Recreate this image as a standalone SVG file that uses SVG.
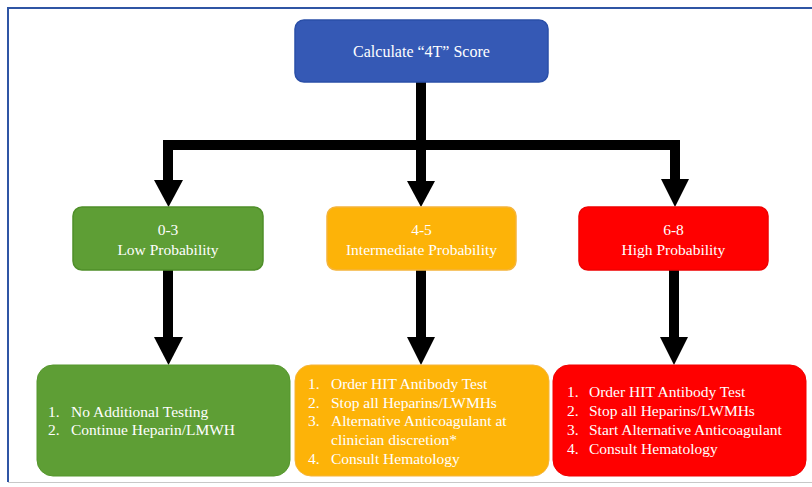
<svg xmlns="http://www.w3.org/2000/svg" width="812" height="487" viewBox="0 0 812 487">
<style>
  .t{font-family:"Liberation Serif","Times New Roman",serif;fill:#fff;font-size:15.5px}
  .c{text-anchor:middle}
  .ln{fill:none;stroke:#000;stroke-width:10;stroke-linejoin:miter}
  .hd{fill:#000}
</style>
<rect x="0" y="0" width="812" height="487" fill="#fff"/>
<line x1="8" y1="8" x2="812" y2="8" stroke="#2F55A4" stroke-width="2"/>
<line x1="8" y1="7" x2="8" y2="482" stroke="#2F55A4" stroke-width="2"/>
<line x1="8" y1="482.5" x2="812" y2="482.5" stroke="#c8c8c8" stroke-width="1"/>
<g id="connectors">
  <path class="ln" d="M421,82 V181"/>
  <path class="ln" d="M168,181 V145 H675 V179"/>
  <polygon class="hd" points="154,180 183,180 168.5,207"/>
  <polygon class="hd" points="407,181 435,181 421,207"/>
  <polygon class="hd" points="661,179 689,179 675,207"/>
  <path class="ln" d="M168,270 V338"/>
  <polygon class="hd" points="154,337 183,337 168.5,365"/>
  <path class="ln" d="M421,270 V338"/>
  <polygon class="hd" points="407,337 435,337 421,365"/>
  <path class="ln" d="M674,270 V338"/>
  <polygon class="hd" points="660,337 688,337 674,365"/>
</g>
<g id="n-top">
  <rect x="295" y="20" width="253" height="62" rx="9" fill="#3559B5" stroke="#2A4FA8" stroke-width="1.5"/>
  <text class="t c" x="421.5" y="57" style="font-size:16px">Calculate “4T” Score</text>
</g>
<g id="n-low">
  <rect x="73" y="207" width="190" height="63" rx="9" fill="#5E9E35" stroke="#4F8F29" stroke-width="1.5"/>
  <text class="t c" x="168" y="235">0-3</text>
  <text class="t c" x="168" y="255">Low Probability</text>
</g>
<g id="n-mid">
  <rect x="327" y="207" width="189" height="63" rx="9" fill="#FDB308" stroke="#F5B43A" stroke-width="1.5"/>
  <text class="t c" x="421.5" y="235">4-5</text>
  <text class="t c" x="421.5" y="255">Intermediate Probability</text>
</g>
<g id="n-high">
  <rect x="579" y="207" width="189" height="63" rx="9" fill="#FF0000" stroke="#F00000" stroke-width="1.5"/>
  <text class="t c" x="673.5" y="235">6-8</text>
  <text class="t c" x="673.5" y="255">High Probability</text>
</g>
<g id="n-low-act">
  <rect x="37" y="365" width="253" height="111" rx="16" fill="#5E9E35" stroke="#55972C" stroke-width="1"/>
  <text class="t" x="48" y="417">1.</text>
  <text class="t" x="71" y="417">No Additional Testing</text>
  <text class="t" x="48" y="435">2.</text>
  <text class="t" x="71" y="435">Continue Heparin/LMWH</text>
</g>
<g id="n-mid-act">
  <rect x="295" y="365" width="254" height="111" rx="16" fill="#FDB308" stroke="#F5B43A" stroke-width="1"/>
  <text class="t" x="308" y="389">1.</text>
  <text class="t" x="331" y="389">Order HIT Antibody Test</text>
  <text class="t" x="308" y="408">2.</text>
  <text class="t" x="331" y="408">Stop all Heparins/LWMHs</text>
  <text class="t" x="308" y="426">3.</text>
  <text class="t" x="331" y="426">Alternative Anticoagulant at</text>
  <text class="t" x="331" y="445">clinician discretion*</text>
  <text class="t" x="308" y="464">4.</text>
  <text class="t" x="331" y="464">Consult Hematology</text>
</g>
<g id="n-high-act">
  <rect x="553" y="365" width="253" height="111" rx="16" fill="#FF0000" stroke="#F00000" stroke-width="1"/>
  <text class="t" x="567" y="397">1.</text>
  <text class="t" x="589" y="397">Order HIT Antibody Test</text>
  <text class="t" x="567" y="416">2.</text>
  <text class="t" x="589" y="416">Stop all Heparins/LWMHs</text>
  <text class="t" x="567" y="435">3.</text>
  <text class="t" x="589" y="435">Start Alternative Anticoagulant</text>
  <text class="t" x="567" y="454">4.</text>
  <text class="t" x="589" y="454">Consult Hematology</text>
</g>
</svg>
